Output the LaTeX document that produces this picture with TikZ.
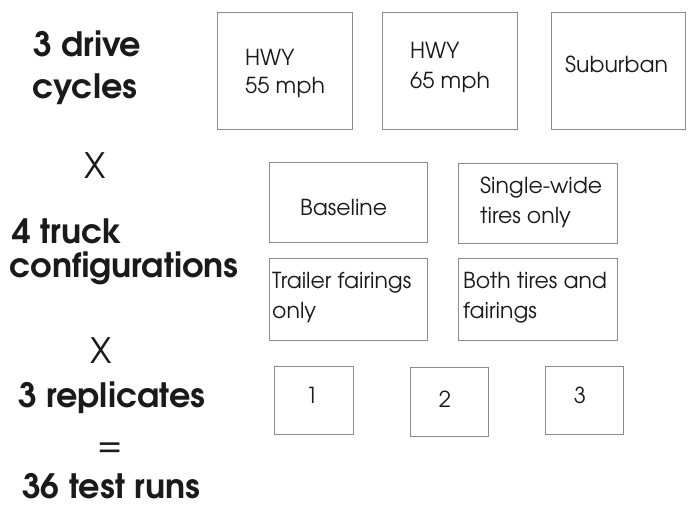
\documentclass[tikz,border=0pt]{standalone}
\usepackage{fontspec}
\setmainfont{texgyreadventor}[Extension=.otf,UprightFont=*-regular,BoldFont=*-bold]
\begin{document}
\begin{tikzpicture}[x=1pt,y=-1pt,
  box/.style={draw=boxgray,line width=0.9pt,inner sep=0pt,anchor=north west},
  big/.style={anchor=base west,inner sep=0pt,text=ink,font=\fontsize{33.5}{36}\selectfont\bfseries},
  bigc/.style={anchor=base,inner sep=0pt,text=ink,font=\fontsize{35}{38}\selectfont},
  small/.style={anchor=base west,inner sep=0pt,text=ink,font=\fontsize{22}{26}\selectfont},
  smallc/.style={anchor=base,inner sep=0pt,text=ink,font=\fontsize{22}{26}\selectfont}]
\definecolor{boxgray}{HTML}{8C8C8C}
\definecolor{ink}{HTML}{1A1A1A}
\useasboundingbox[fill=white] (0,0) rectangle (688,504);
% left column
\node[big] (l1) at (33,56) {3 drive};
\node[big] (l2) at (32,98) {cycles};
\node[bigc] (x1) at (95,178) {X};
\node[big] (l3) at (12,243) {4 truck};
\node[big] (l4) at (9,277) {configurations};
\node[bigc] (x2) at (101,363) {X};
\node[big] (l5) at (18,407) {3 replicates};
\node[bigc] (eq) at (110,456) {=};
\node[big] (l6) at (22,498) {36 test runs};
% drive cycles
\node[box,minimum width=135pt,minimum height=117pt] (c1) at (217,12) {};
\node[box,minimum width=135pt,minimum height=117pt] (c2) at (382,12) {};
\node[box,minimum width=134pt,minimum height=117pt] (c3) at (551,12) {};
\node[small] (c1a) at (245,65) {HWY};
\node[small] (c1b) at (245,93) {55 mph};
\node[small] (c2a) at (410,58) {HWY};
\node[small] (c2b) at (410,88) {65 mph};
\node[small] (c3a) at (565,72) {Suburban};
% configurations
\node[box,minimum width=158pt,minimum height=80pt] (t1) at (269,162) {};
\node[box,minimum width=159pt,minimum height=80pt] (t2) at (458,163) {};
\node[box,minimum width=158pt,minimum height=82pt] (t3) at (269,258) {};
\node[box,minimum width=159pt,minimum height=82pt] (t4) at (458,258) {};
\node[small] (t1a) at (300,215) {Baseline};
\node[small] (t2a) at (480,193) {Single-wide};
\node[small] (t2b) at (480,223) {tires only};
\node[small] (t3a) at (272,288) {Trailer fairings};
\node[small] (t3b) at (272,318) {only};
\node[small] (t4a) at (463,288) {Both tires and};
\node[small] (t4b) at (463,318) {fairings};
% replicates
\node[box,minimum width=79pt,minimum height=68pt] (r1) at (274,366) {};
\node[box,minimum width=78pt,minimum height=69pt] (r2) at (410,367) {};
\node[box,minimum width=78pt,minimum height=68pt] (r3) at (545,366) {};
\node[smallc] (r1a) at (312,403) {1};
\node[smallc] (r2a) at (445,407) {2};
\node[smallc] (r3a) at (580,403) {3};
\end{tikzpicture}
\end{document}
